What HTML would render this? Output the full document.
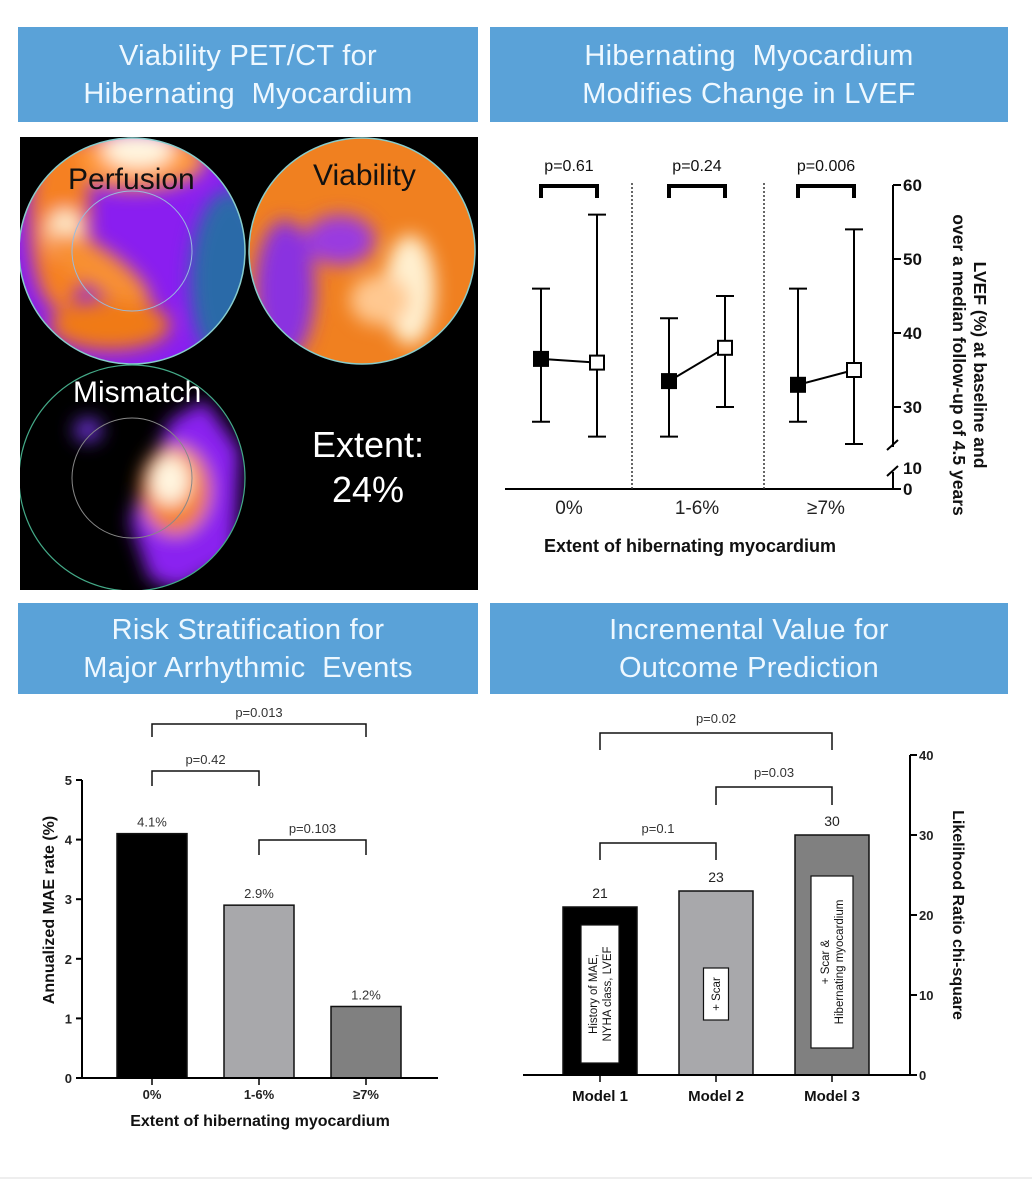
<!DOCTYPE html>
<html><head><meta charset="utf-8">
<style>
body{margin:0;background:#fff;width:1032px;height:1200px;overflow:hidden;font-family:"Liberation Sans",Arial,sans-serif}
.hdr{position:absolute;background:#5aa2d8;color:#eef8ff;text-align:center;font-size:29px;line-height:38px;display:flex;align-items:center;justify-content:center;letter-spacing:0.3px}
svg{position:absolute;left:0;top:0}
</style></head><body>
<div class="hdr" style="left:18px;top:27px;width:460px;height:95px">Viability PET/CT for<br>Hibernating&nbsp; Myocardium</div>
<div class="hdr" style="left:490px;top:27px;width:518px;height:95px">Hibernating&nbsp; Myocardium<br>Modifies Change in LVEF</div>
<div class="hdr" style="left:18px;top:603px;width:460px;height:91px">Risk Stratification for<br>Major Arrhythmic&nbsp; Events</div>
<div class="hdr" style="left:490px;top:603px;width:518px;height:91px">Incremental Value for<br>Outcome Prediction</div>

<svg id="s" width="1032" height="1200" xmlns="http://www.w3.org/2000/svg" font-family="Liberation Sans, Arial, sans-serif">
<defs>
<filter id="bl" x="-20%" y="-20%" width="140%" height="140%"><feGaussianBlur stdDeviation="9"/></filter>
<clipPath id="c1"><circle cx="132" cy="251" r="113"/></clipPath>
<clipPath id="c2"><circle cx="362" cy="251" r="113"/></clipPath>
<clipPath id="c3"><circle cx="132" cy="478" r="113"/></clipPath>
<clipPath id="panel"><rect x="20" y="137" width="458" height="453"/></clipPath>
</defs>
<g clip-path="url(#panel)">
<rect x="20" y="137" width="458" height="453" fill="#000"/>
<g clip-path="url(#c1)">
 <rect x="15" y="135" width="235" height="230" fill="#8a1ef0"/>
 <g filter="url(#bl)">
  <ellipse cx="230" cy="280" rx="40" ry="90" fill="#2a6aa8"/>
  <ellipse cx="135" cy="160" rx="70" ry="30" fill="#ff9a3a"/>
  <ellipse cx="138" cy="150" rx="35" ry="18" fill="#fff6e0"/>
  <ellipse cx="60" cy="220" rx="30" ry="90" fill="#f58020"/>
  <ellipse cx="65" cy="235" rx="18" ry="25" fill="#fff0d0"/>
  <ellipse cx="100" cy="270" rx="60" ry="20" fill="#f89030" transform="rotate(35 100 270)"/>
  <ellipse cx="110" cy="325" rx="60" ry="25" fill="#f07a18"/>
 </g>
 <circle cx="132" cy="251" r="60" fill="none" stroke="#9bd" stroke-width="1"/>
</g>
<circle cx="132" cy="251" r="113" fill="none" stroke="#8cc" stroke-width="1.5"/>
<g clip-path="url(#c2)">
 <rect x="245" y="135" width="235" height="230" fill="#f08020"/>
 <g filter="url(#bl)">
  <ellipse cx="285" cy="290" rx="30" ry="70" fill="#8a30e0"/>
  <ellipse cx="340" cy="240" rx="35" ry="25" fill="#9a3ae0"/>
  <ellipse cx="410" cy="290" rx="25" ry="55" fill="#fff0d0"/>
  <ellipse cx="380" cy="300" rx="30" ry="25" fill="#ffc890"/>
 </g>
</g>
<circle cx="362" cy="251" r="113" fill="none" stroke="#8cc" stroke-width="1.5"/>
<g clip-path="url(#c3)">
 <g filter="url(#bl)">
  <path d="M170,420 L205,400 L240,450 L235,560 L180,590 L150,580 L130,520 L150,470 Z" fill="#8a20f0"/>
  <ellipse cx="175" cy="490" rx="35" ry="45" fill="#f58020"/>
  <ellipse cx="170" cy="480" rx="20" ry="25" fill="#fff6e0"/>
  <ellipse cx="88" cy="430" rx="14" ry="12" fill="#6a30d0"/>
 </g>
 <circle cx="132" cy="478" r="60" fill="none" stroke="#888" stroke-width="1"/>
</g>
<circle cx="132" cy="478" r="113" fill="none" stroke="#4a8" stroke-width="1.2"/>
<text x="68" y="189" font-size="30" fill="#111">Perfusion</text>
<text x="313" y="185" font-size="30" fill="#111">Viability</text>
<text x="73" y="402" font-size="30" fill="#fff">Mismatch</text>
<text x="368" y="457" font-size="36" fill="#fff" text-anchor="middle">Extent:</text>
<text x="368" y="502" font-size="36" fill="#fff" text-anchor="middle">24%</text>
</g>
<line x1="0" y1="1178" x2="1032" y2="1178" stroke="#ddd" stroke-width="1"/>
</svg>
<script>
// ---- Chart 1: LVEF ----
const lvefCats=["0%","1-6%","≥7%"];
const lvefBase=[36.5,33.5,33];
const lvefBaseLo=[28,26,28];
const lvefBaseHi=[46,42,46];
const lvefFollow=[36,38,35];
const lvefFollowLo=[26,30,25];
const lvefFollowHi=[56,45,54];
const lvefP=["p=0.61","p=0.24","p=0.006"];
const lvefTicks=[30,40,50,60];
// ---- Chart 2: MAE ----
const maeCats=["0%","1-6%","≥7%"];
const maeVals=[4.1,2.9,1.2];
const maeLabels=["4.1%","2.9%","1.2%"];
const maeTicks=[0,1,2,3,4,5];
const maeColors=["#000","#a8a8ab","#808080"];
// ---- Chart 3: LR chi-square ----
const lrCats=["Model 1","Model 2","Model 3"];
const lrVals=[21,23,30];
const lrTicks=[0,10,20,30,40];
const lrColors=["#000","#a8a8ab","#808080"];

const NS="http://www.w3.org/2000/svg";
const svg=document.getElementById('s');
function el(t,a,p){const e=document.createElementNS(NS,t);for(const k in a)e.setAttribute(k,a[k]);(p||svg).appendChild(e);return e;}
function txt(x,y,s,a,p){const e=el('text',Object.assign({x:x,y:y},a),p);e.textContent=s;return e;}

// Chart 1
(function(){
const g=el('g',{});


const y=v=>407-(v-30)*7.4;
const cx=[569,697,826], off=28;
el('line',{x1:505,y1:489,x2:893,y2:489,stroke:'#000','stroke-width':2},g);
el('line',{x1:893,y1:185,x2:893,y2:447,stroke:'#000','stroke-width':2},g);
el('line',{x1:893,y1:472,x2:893,y2:489,stroke:'#000','stroke-width':2},g);
el('line',{x1:887,y1:450,x2:898,y2:440,stroke:'#000','stroke-width':2},g);
el('line',{x1:887,y1:476,x2:898,y2:466,stroke:'#000','stroke-width':2},g);
lvefTicks.forEach(t=>{el('line',{x1:893,y1:y(t),x2:901,y2:y(t),stroke:'#000','stroke-width':2},g);const l=txt(903,y(t)+6,String(t),{'font-size':17,'font-weight':'bold',fill:'#111'},g);});
txt(903,474,"10",{'font-size':17,'font-weight':'bold',fill:'#111'},g);
el('line',{x1:893,y1:489,x2:901,y2:489,stroke:'#000','stroke-width':2},g);
txt(903,495,"0",{'font-size':17,'font-weight':'bold',fill:'#111'},g);
[632,764].forEach(x=>el('line',{x1:x,y1:183,x2:x,y2:489,stroke:'#333','stroke-width':1.5,'stroke-dasharray':'2,2'},g));
lvefCats.forEach((c,i)=>{
 const xb=cx[i]-off, xf=cx[i]+off;
 [[xb,lvefBaseLo[i],lvefBaseHi[i]],[xf,lvefFollowLo[i],lvefFollowHi[i]]].forEach(([x,lo,hi])=>{
  el('line',{x1:x,y1:y(lo),x2:x,y2:y(hi),stroke:'#000','stroke-width':2},g);
  el('line',{x1:x-9,y1:y(lo),x2:x+9,y2:y(lo),stroke:'#000','stroke-width':2},g);
  el('line',{x1:x-9,y1:y(hi),x2:x+9,y2:y(hi),stroke:'#000','stroke-width':2},g);
 });
 el('line',{x1:xb,y1:y(lvefBase[i]),x2:xf,y2:y(lvefFollow[i]),stroke:'#000','stroke-width':2},g);
 const b=el('rect',{x:xb-8,y:y(lvefBase[i])-8,width:16,height:16,fill:'#000'},g);
 
 const f=el('rect',{x:xf-7,y:y(lvefFollow[i])-7,width:14,height:14,fill:'#fff',stroke:'#000','stroke-width':2},g);
 
 el('path',{d:`M${xb},${198} V${186} H${xf} V${198}`,fill:'none',stroke:'#000','stroke-width':4},g);
 txt(cx[i],171,lvefP[i],{'font-size':16,'text-anchor':'middle',fill:'#111'},g);
 txt(cx[i],514,c,{'font-size':19,'text-anchor':'middle',fill:'#222'},g);
});
txt(690,552,"Extent of hibernating myocardium",{'font-size':18,'font-weight':'bold','text-anchor':'middle',fill:'#111'},g);
const t=el('g',{transform:'translate(968,365) rotate(90)'},g);
txt(0,-6,"LVEF (%) at baseline and",{'font-size':17.5,'font-weight':'bold','text-anchor':'middle',fill:'#111'},t);
txt(0,15,"over a median follow-up of 4.5 years",{'font-size':17.5,'font-weight':'bold','text-anchor':'middle',fill:'#111'},t);
})();

// Chart 2
(function(){
const g=el('g',{});


const y=v=>1078-v*59.6;
const cx=[152,259,366];
maeVals.forEach((v,i)=>{
 const r=el('rect',{x:cx[i]-35,y:y(v),width:70,height:1078-y(v),fill:maeColors[i],stroke:'#111','stroke-width':1.5},g);
 
 txt(cx[i],y(v)-7,maeLabels[i],{'font-size':13,'text-anchor':'middle',fill:'#333'},g);
 el('line',{x1:cx[i],y1:1078,x2:cx[i],y2:1085,stroke:'#000','stroke-width':1.5},g);
 txt(cx[i],1099,maeCats[i],{'font-size':13,'font-weight':'bold','text-anchor':'middle',fill:'#222'},g);
});
el('line',{x1:82,y1:780,x2:82,y2:1078,stroke:'#000','stroke-width':2},g);
el('line',{x1:82,y1:1078,x2:438,y2:1078,stroke:'#000','stroke-width':2},g);
maeTicks.forEach(t=>{el('line',{x1:76,y1:y(t),x2:82,y2:y(t),stroke:'#000','stroke-width':2},g);txt(72,y(t)+5,String(t),{'font-size':13,'font-weight':'bold','text-anchor':'end',fill:'#222'},g);});
[[0,2,724,737,"p=0.013"],[0,1,771,786,"p=0.42"],[1,2,840,855,"p=0.103"]].forEach(([a,b,t,bt,p])=>{
 el('path',{d:`M${cx[a]},${bt} V${t} H${cx[b]} V${bt}`,fill:'none',stroke:'#111','stroke-width':1.5},g);
 txt((cx[a]+cx[b])/2,t-7,p,{'font-size':13,'text-anchor':'middle',fill:'#333'},g);
});
txt(260,1126,"Extent of hibernating myocardium",{'font-size':16,'font-weight':'bold','text-anchor':'middle',fill:'#111'},g);
txt(0,0,"Annualized MAE rate (%)",{'font-size':16,'font-weight':'bold','text-anchor':'middle',fill:'#111',transform:'translate(54,910) rotate(-90)'},g);
})();

// Chart 3
(function(){
const g=el('g',{});


const y=v=>1075-v*8;
const cx=[600,716,832];
const inner=[["History of MAE,","NYHA class, LVEF"],["+ Scar"],["+ Scar &","Hibernating myocardium"]];
const bw=[38,25,42];
lrVals.forEach((v,i)=>{
 const r=el('rect',{x:cx[i]-37,y:y(v),width:74,height:1075-y(v),fill:lrColors[i],stroke:'#111','stroke-width':1.5},g);
 
 txt(cx[i],y(v)-9,String(v),{'font-size':14,'text-anchor':'middle',fill:'#222'},g);
 const top=i==0?925:(i==1?968:876), bot=i==0?1063:(i==1?1020:1048);
 el('rect',{x:cx[i]-bw[i]/2,y:top,width:bw[i],height:bot-top,fill:'#fff',stroke:'#111','stroke-width':1.2},g);
 const t=el('g',{transform:`translate(${cx[i]},${(top+bot)/2}) rotate(-90)`},g);
 inner[i].forEach((s,j)=>txt(0,(j-(inner[i].length-1)/2)*14+4,s,{'font-size':11.5,'text-anchor':'middle',fill:'#111'},t));
 el('line',{x1:cx[i],y1:1075,x2:cx[i],y2:1082,stroke:'#000','stroke-width':1.5},g);
 txt(cx[i],1101,lrCats[i],{'font-size':15,'font-weight':'bold','text-anchor':'middle',fill:'#111'},g);
});
el('line',{x1:910,y1:755,x2:910,y2:1075,stroke:'#000','stroke-width':2},g);
el('line',{x1:523,y1:1075,x2:910,y2:1075,stroke:'#000','stroke-width':2},g);
lrTicks.forEach(t=>{el('line',{x1:910,y1:y(t),x2:917,y2:y(t),stroke:'#000','stroke-width':2},g);txt(919,y(t)+5,String(t),{'font-size':13,'font-weight':'bold',fill:'#222'},g);});
[[0,2,733,750,"p=0.02"],[1,2,787,805,"p=0.03"],[0,1,843,860,"p=0.1"]].forEach(([a,b,t,bt,p])=>{
 el('path',{d:`M${cx[a]},${bt} V${t} H${cx[b]} V${bt}`,fill:'none',stroke:'#111','stroke-width':1.5},g);
 txt((cx[a]+cx[b])/2,t-10,p,{'font-size':13,'text-anchor':'middle',fill:'#333'},g);
});
txt(0,0,"Likelihood Ratio chi-square",{'font-size':16,'font-weight':'bold','text-anchor':'middle',fill:'#111',transform:'translate(953,915) rotate(90)'},g);
})();
</script>
</body></html>
